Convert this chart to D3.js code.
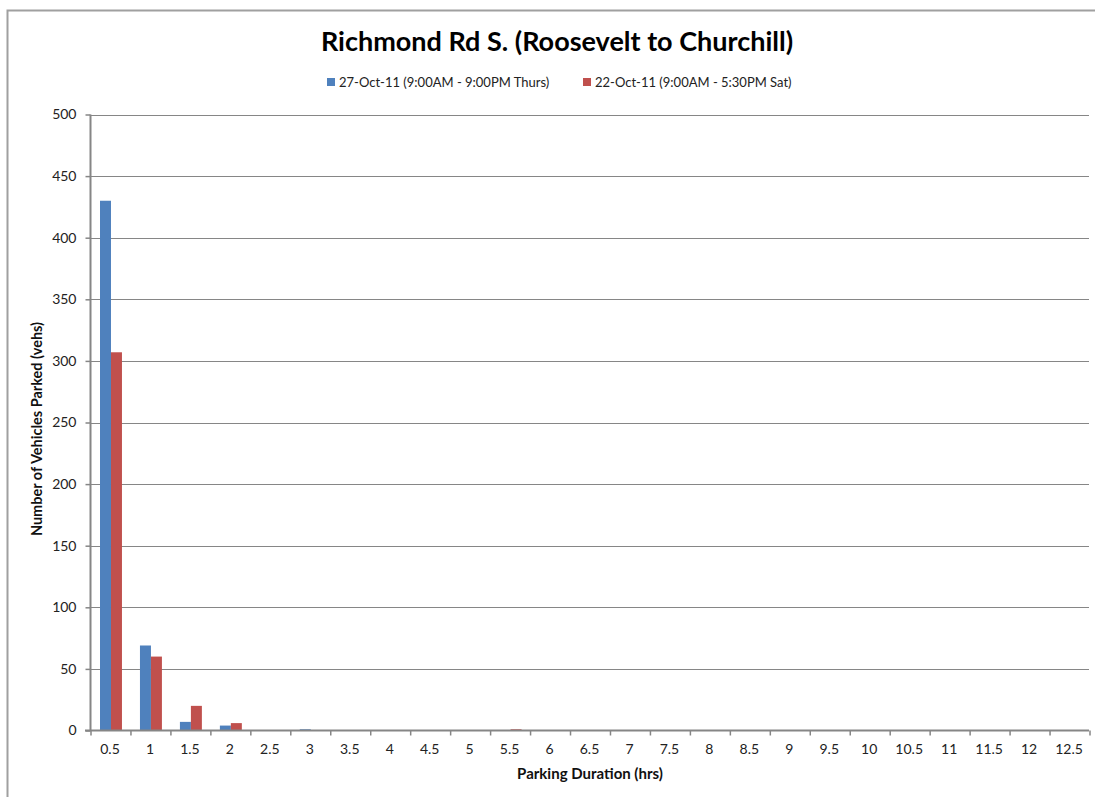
<!DOCTYPE html>
<html><head><meta charset="utf-8">
<script src="https://cdn.jsdelivr.net/npm/d3@7"></script>
<style>body{margin:0;background:#fff;} svg{display:block;} text{font-family:Lato,"Open Sans",sans-serif;}</style>
</head><body><svg id="c" width="1095" height="797"></svg>
<script>
const categories = ["0.5","1","1.5","2","2.5","3","3.5","4","4.5","5","5.5","6","6.5","7","7.5","8","8.5","9","9.5","10","10.5","11","11.5","12","12.5"];
const thursValues = [430,69,7,4,0,1,0,0,0,0,0,0,0,0,0,0,0,0,0,0,0,0,0,0,0];
const satValues   = [307,60,20,6,0,0,0,0,0,0,1,0,0,0,0,0,0,0,0,0,0,0,0,0,0];
const seriesNames = ["27-Oct-11 (9:00AM - 9:00PM Thurs)","22-Oct-11 (9:00AM - 5:30PM Sat)"];
const yTicks = [0,50,100,150,200,250,300,350,400,450,500];
const colors = ["#4f81bd","#c0504d"];

const svg = d3.select("#c");
svg.append("path").attr("d","M7.5,800 L7.5,10.5 L1100,10.5").attr("fill","none").attr("stroke","#a0a0a0").attr("stroke-width",2);

const m = {l:90, r:1089, t:114.5, b:730.5};
const x = d3.scaleBand().domain(categories).range([m.l, m.r]);
const y = d3.scaleLinear().domain([0,500]).range([m.b, m.t]);
const x1 = d3.scaleBand().domain([0,1]).range([0, x.bandwidth()]).paddingInner(0).paddingOuter(0.82);

svg.append("g").selectAll("line").data(yTicks.filter(d=>d>0)).join("line")
  .attr("x1",m.l).attr("x2",m.r).attr("y1",d=>Math.round(y(d))+0.5).attr("y2",d=>Math.round(y(d))+0.5)
  .attr("stroke","#868686").attr("stroke-width",1);

const data = categories.map((c,i)=>({c, v:[thursValues[i], satValues[i]]}));
const g = svg.append("g").selectAll("g").data(data).join("g").attr("transform",d=>`translate(${x(d.c)+1},0)`);
g.selectAll("rect").data(d=>d.v.map((v,k)=>({v,k}))).join("rect")
  .attr("x",d=>x1(d.k)).attr("width",x1.bandwidth())
  .attr("y",d=>y(d.v)).attr("height",d=>m.b-y(d.v))
  .attr("fill",d=>colors[d.k]);

const ya = svg.append("g").attr("transform",`translate(${m.l+0.5},0)`)
  .call(d3.axisLeft(y).tickValues(yTicks).tickSize(5).tickPadding(9));
ya.select(".domain").attr("stroke","#868686").attr("stroke-width",2).attr("d",`M0,${m.t}V${m.b}`);
ya.selectAll(".tick line").attr("stroke","#868686").attr("stroke-width",1.5);
ya.selectAll(".tick text").attr("font-size",14).attr("fill","#222").attr("font-family","Lato,sans-serif");

const xa = svg.append("g").attr("transform",`translate(0,${m.b})`)
  .call(d3.axisBottom(x).tickSize(0).tickPadding(14));
xa.select(".domain").attr("stroke","#868686").attr("stroke-width",2).attr("d",`M${m.l-5},0H${m.r}`);
xa.selectAll(".tick text").attr("font-size",14).attr("fill","#222").attr("font-family","Lato,sans-serif");
svg.append("g").selectAll("line").data(d3.range(categories.length+1)).join("line")
  .attr("x1",i=>m.l+i*x.step()+1).attr("x2",i=>m.l+i*x.step()+1)
  .attr("y1",m.b).attr("y2",m.b+5).attr("stroke","#868686").attr("stroke-width",1.5);

svg.append("text").attr("x",557).attr("y",51).attr("text-anchor","middle")
  .attr("font-size",27).attr("font-weight","bold").attr("fill","#000").text("Richmond Rd S. (Roosevelt to Churchill)");

const legX = [327, 583];
seriesNames.forEach((s,i)=>{
  svg.append("rect").attr("x",legX[i]).attr("y",78).attr("width",8).attr("height",8).attr("fill",colors[i]);
  svg.append("text").attr("x",legX[i]+12).attr("y",87).attr("font-size",13).attr("fill","#222").text(s);
});

svg.append("text").attr("x",590).attr("y",779).attr("text-anchor","middle")
  .attr("font-size",15).attr("font-weight","bold").attr("fill","#111").text("Parking Duration (hrs)");
svg.append("text").attr("transform","translate(42,429) rotate(-90)").attr("text-anchor","middle")
  .attr("font-size",14.5).attr("font-weight","bold").attr("fill","#111").text("Number of Vehicles Parked (vehs)");
</script></body></html>
